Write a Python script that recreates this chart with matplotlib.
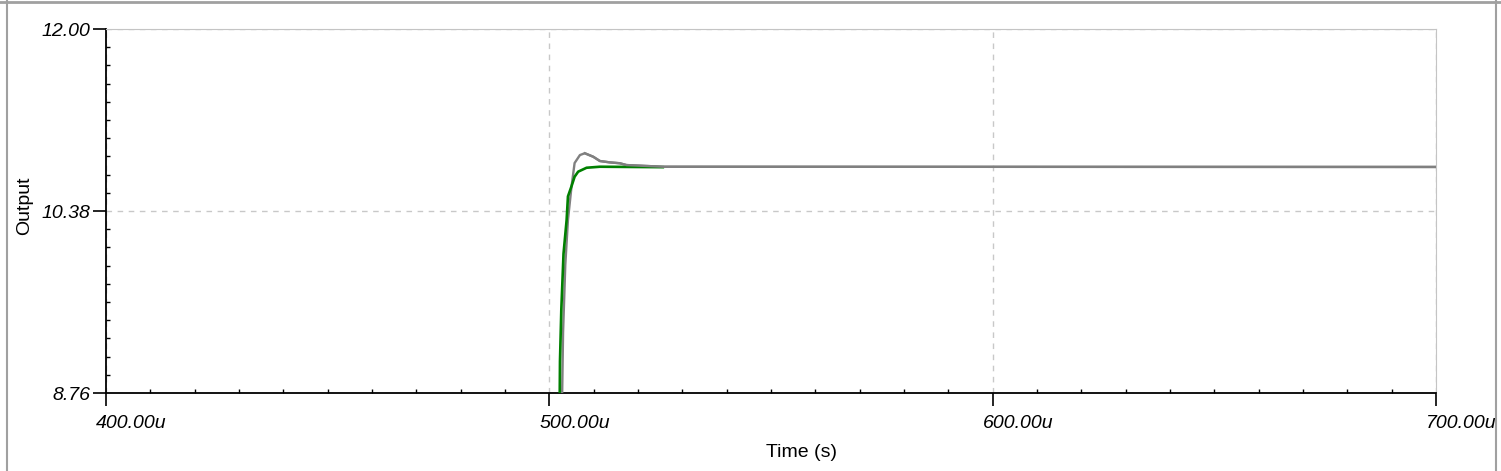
import matplotlib.pyplot as plt
from matplotlib.ticker import FixedLocator, AutoMinorLocator
from matplotlib.lines import Line2D
from matplotlib.transforms import ScaledTranslation

# time in microseconds, output in volts
green_t = [400.0, 502.3, 502.4, 502.7, 503.2, 503.9, 504.2, 505.0, 505.7, 506.5, 508.4, 511.4, 525.6]
green_v = [8.50, 8.50, 9.04, 9.50, 10.00, 10.30, 10.51, 10.60, 10.685, 10.73, 10.765, 10.774, 10.770]

gray_t = [400.0, 502.8, 503.1, 503.6, 504.2, 505.0, 505.7, 506.9, 508.0, 509.9, 511.4, 513.6, 515.9, 517.4, 525.6, 700.0]
gray_v = [8.50, 8.50, 9.30, 9.90, 10.30, 10.596, 10.807, 10.878, 10.894, 10.863, 10.825, 10.813, 10.805, 10.789, 10.774, 10.772]

xticks = [400, 500, 600, 700]
xlabels = ["400.00u", "500.00u", "600.00u", "700.00u"]
yticks = [8.76, 10.38, 12.00]
ylabels = ["8.76", "10.38", "12.00"]

fig = plt.figure(figsize=(15.01, 4.71), dpi=100)
ax = fig.add_axes([106/1501, 78/471, 1330/1501, 364/471])

ax.plot(gray_t, gray_v, color="#808080", lw=1.7, zorder=3)
ax.plot(green_t, green_v, color="#008000", lw=1.9, zorder=4)
ax.plot(gray_t[8:], gray_v[8:], color="#808080", lw=1.7, zorder=5)

ax.set_xlim(400, 700)
ax.set_ylim(8.76, 12.0)

ax.xaxis.set_major_locator(FixedLocator(xticks))
ax.set_xticklabels(xlabels, fontstyle="italic", fontsize=14, ha="left", family="Liberation Sans")
ax.yaxis.set_major_locator(FixedLocator(yticks))
ax.set_yticklabels(ylabels, fontstyle="italic", fontsize=14, family="Liberation Sans")
ax.xaxis.set_minor_locator(AutoMinorLocator(10))
ax.yaxis.set_minor_locator(AutoMinorLocator(10))

ax.tick_params(which="major", direction="out", length=9.5, width=1.2, color="black")
ax.tick_params(axis="x", which="major", pad=6)
ax.tick_params(axis="y", which="major", pad=2)
ax.tick_params(which="minor", direction="in", length=3, width=1, color="black")
for lbl in ax.get_xticklabels():
    lbl.set_transform(lbl.get_transform() + ScaledTranslation(-10/100, 0, fig.dpi_scale_trans))

ax.grid(True, which="major", color="#c8c8c8", linestyle=(0, (4, 4)), lw=1)

ax.spines["top"].set_color("#c4c4c4")
ax.spines["right"].set_color("#c4c4c4")
ax.spines["left"].set_linewidth(1.3)
ax.spines["bottom"].set_linewidth(1.3)

ax.set_xlabel("Time (s)", fontsize=14, family="Liberation Sans")
ax.xaxis.set_label_coords(0.5226, -0.14)
ax.set_ylabel("Output", fontsize=14, family="Liberation Sans")
ax.yaxis.set_label_coords(-0.0545, 0.515)

# window frame remnants
fig.add_artist(Line2D([7/1501, 7/1501], [0, 1], color="#a0a0a0", lw=1.5))
fig.add_artist(Line2D([1496/1501, 1496/1501], [0, 1], color="#a0a0a0", lw=1.5))
fig.add_artist(Line2D([0, 1], [469.5/471, 469.5/471], color="#a0a0a0", lw=2))

fig.savefig("out.png", dpi=100)
